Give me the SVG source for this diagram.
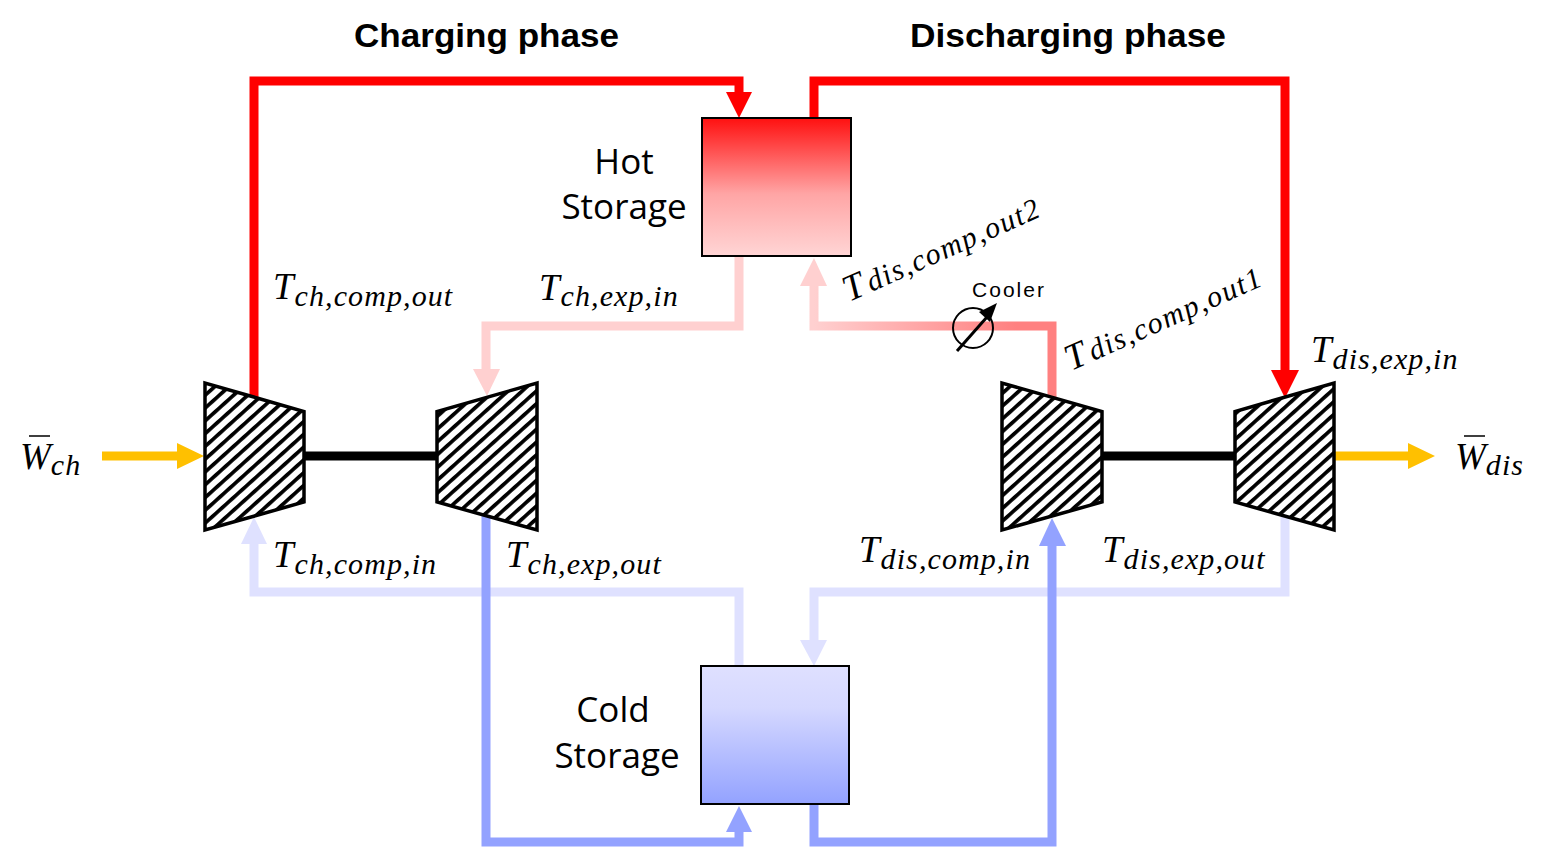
<svg xmlns="http://www.w3.org/2000/svg" width="1549" height="847" viewBox="0 0 1549 847">
<style>
.c{fill:none;stroke-width:9}
.m{font-family:"Liberation Serif",serif;font-style:italic;fill:#000}
.b{font-family:"Liberation Sans",sans-serif;font-weight:bold;font-size:33px;fill:#000}
.l{font-family:"Open Sans","Liberation Sans",sans-serif;font-size:35px;fill:#000;text-anchor:middle}
.t{fill:url(#hatch);stroke:#000;stroke-width:3.500}
.s{stroke:#000;stroke-width:2}
.T{font-size:37px}.S{font-size:30px;letter-spacing:1.100px}.R{font-size:30px;letter-spacing:1.500px}
</style>
<defs>
<pattern id="hatch" width="9.500" height="9.500" patternUnits="userSpaceOnUse" patternTransform="translate(204 381) rotate(-42)">
<rect width="9.500" height="9.500" fill="#fff"/><rect width="9.500" height="3.700" fill="#000"/>
</pattern>
<linearGradient id="hot" x1="0" y1="0" x2="0" y2="1"><stop offset="0" stop-color="#ff1010"/><stop offset=".55" stop-color="#ffa5a5"/><stop offset="1" stop-color="#ffd5d5"/></linearGradient>
<linearGradient id="cold" x1="0" y1="0" x2="0" y2="1"><stop offset="0" stop-color="#dfe0ff"/><stop offset=".3" stop-color="#d5d8ff"/><stop offset="1" stop-color="#93a2ff"/></linearGradient>
<linearGradient id="cool" gradientUnits="userSpaceOnUse" x1="814" y1="0" x2="1052" y2="0"><stop offset="0" stop-color="#ffd0d0"/><stop offset=".85" stop-color="#ff8080"/><stop offset="1" stop-color="#ff8080"/></linearGradient>
</defs>
<g id="connectors">
<path class="c" stroke="#ff0000" d="M254 398V81H739V100"/><path fill="#ff0000" d="M726 92h26l-13 26z"/>
<path class="c" stroke="#ff0000" d="M814 118V81H1285V372"/><path fill="#ff0000" d="M1271 370h28l-14 28z"/>
<path class="c" stroke="#ffd0d0" d="M739 256V326H486V372"/><path fill="#ffd0d0" d="M473 369h27l-13 27z"/>
<path class="c" stroke="url(#cool)" d="M1052 397V326H814V285"/><path fill="#ffd0d0" d="M800 286h27l-13-28z"/>
<path class="c" stroke="#dfe1ff" d="M739 666V592H254V540"/><path fill="#dfe1ff" d="M241 544h26l-13-27z"/>
<path class="c" stroke="#dfe1ff" d="M1285 517V592H814V645"/><path fill="#dfe1ff" d="M800 640h27l-13 26z"/>
<path class="c" stroke="#93a2ff" d="M486 516V842H739V830"/><path fill="#93a2ff" d="M726 832h26l-13-26z"/>
<path class="c" stroke="#93a2ff" d="M814 804V842H1052V545"/><path fill="#93a2ff" d="M1039 546h27l-14-28z"/>
<path stroke="#000" stroke-width="9" d="M305 456H436M1103 456H1234"/>
<path stroke="#ffc000" stroke-width="9" d="M102 456H180M1335 456H1412"/>
<path fill="#ffc000" d="M177 443l27 13-27 13zM1408 443l27 13-27 13z"/>
</g>
<g id="compressor-ch"><path class="t" d="M205 383V530L304 502V411.500Z"/></g>
<g id="turbine-ch"><path class="t" d="M537 383V530L437 502V411.500Z"/></g>
<g id="compressor-dis"><path class="t" d="M1002 383V530L1102 502V411.500Z"/></g>
<g id="turbine-dis"><path class="t" d="M1334 383V530L1235 502V411.500Z"/></g>
<g id="hot-storage"><rect class="s" x="702" y="118" width="149" height="138" fill="url(#hot)"/><text class="l"><tspan x="624" y="174">Hot</tspan><tspan x="624" y="219">Storage</tspan></text></g>
<g id="cold-storage"><rect class="s" x="701" y="666" width="148" height="138" fill="url(#cold)"/><text class="l"><tspan x="613" y="722">Cold</tspan><tspan x="617" y="768">Storage</tspan></text></g>
<g id="cooler">
<circle cx="973" cy="328" r="20" fill="none" stroke="#000" stroke-width="2"/>
<path stroke="#000" stroke-width="3" d="M957 351L987 317"/><path d="M997 303L990 322L979 312Z"/>
<text x="972" y="297" font-family="'Liberation Sans',sans-serif" font-size="21" textLength="72">Cooler</text>
</g>
<g id="titles">
<text class="b" x="354" y="47" textLength="265" lengthAdjust="spacingAndGlyphs">Charging phase</text>
<text class="b" x="910" y="47" textLength="316" lengthAdjust="spacingAndGlyphs">Discharging phase</text>
</g>
<g id="labels">
<text class="m" x="273" y="299"><tspan class="T">T</tspan><tspan class="S" dx="1" dy="7">ch,comp,out</tspan></text>
<text class="m" x="539" y="300"><tspan class="T">T</tspan><tspan class="S" dx="1" dy="6">ch,exp,in</tspan></text>
<text class="m" x="273" y="567"><tspan class="T">T</tspan><tspan class="S" dx="1" dy="7">ch,comp,in</tspan></text>
<text class="m" x="506" y="567"><tspan class="T">T</tspan><tspan class="S" dx="1" dy="7">ch,exp,out</tspan></text>
<text class="m" x="859" y="562"><tspan class="T">T</tspan><tspan class="S" dx="1" dy="7">dis,comp,in</tspan></text>
<text class="m" x="1102" y="562"><tspan class="T">T</tspan><tspan class="S" dx="1" dy="7">dis,exp,out</tspan></text>
<text class="m" x="1311" y="362"><tspan class="T">T</tspan><tspan class="S" dx="1" dy="7">dis,exp,in</tspan></text>
<text class="m" transform="translate(849 302) rotate(-24)"><tspan class="T">T</tspan><tspan class="R" dx="4">dis,comp,out2</tspan></text>
<text class="m" transform="translate(1071 371) rotate(-24)"><tspan class="T">T</tspan><tspan class="R" dx="4">dis,comp,out1</tspan></text>
<text class="m" x="20" y="469"><tspan class="T">W</tspan><tspan class="S" dy="6">ch</tspan></text>
<text class="m" x="1455" y="469"><tspan class="T">W</tspan><tspan class="S" dy="6" letter-spacing="2">dis</tspan></text>
<path stroke="#000" stroke-width="1.500" d="M29 436H50M1464 436H1485"/>
</g>
</svg>
